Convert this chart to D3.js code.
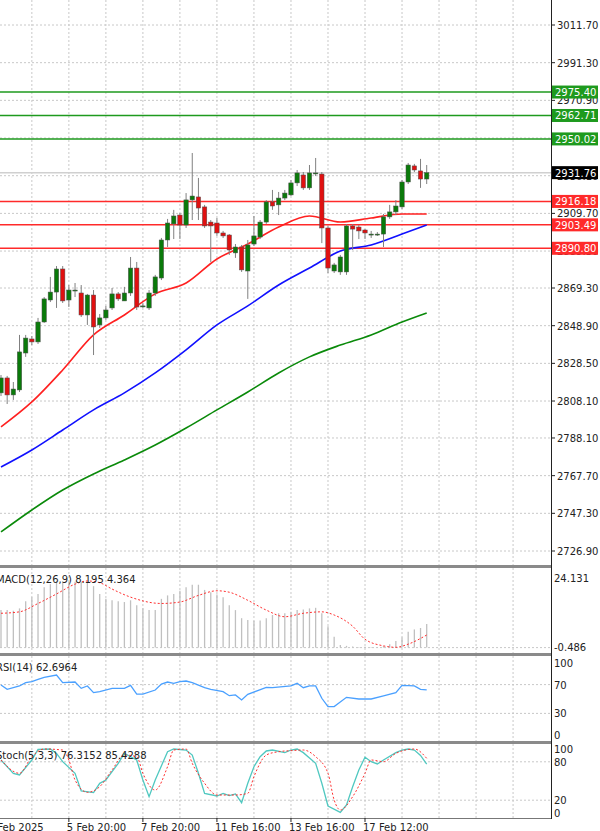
<!DOCTYPE html>
<html><head><meta charset="utf-8">
<script src="https://cdn.jsdelivr.net/npm/d3@7"></script>
<style>body{margin:0;background:#fff}svg{display:block;font-family:"DejaVu Sans",sans-serif}</style>
</head><body><svg id="c" width="600" height="831"></svg>
<script>
// ---- data ----
const candleOpen =[2812.5,2820.6,2811.4,2814.1,2834.1,2841.7,2840.1,2850.9,2862.8,2867.1,2879.6,2862.8,2868.2,2866.6,2854.7,2865.5,2849.3,2853.1,2858.5,2866.1,2862.3,2866.6,2880.1,2859.6,2858.5,2866.6,2874.7,2895.3,2904.0,2908.8,2903.4,2917.0,2918.6,2913.2,2905.0,2904.5,2899.1,2898.0,2888.3,2891.5,2878.5,2893.1,2896.9,2905.0,2915.9,2914.3,2918.0,2919.7,2926.2,2930.5,2923.5,2931.6,2931.0,2901.8,2878.5,2878.0,2878.0,2902.9,2902.3,2900.7,2898.5,2898.5,2898.5,2907.8,2910.5,2913.2,2926.7,2935.4,2932.7,2928.3];
const candleClose=[2820.6,2811.4,2814.6,2834.7,2842.2,2840.1,2850.9,2863.4,2867.1,2879.6,2862.3,2868.2,2868.2,2854.7,2865.5,2848.2,2853.1,2857.4,2866.1,2863.4,2866.6,2880.1,2859.0,2859.6,2866.6,2875.3,2895.3,2904.5,2908.3,2903.4,2917.0,2919.1,2912.6,2902.9,2902.9,2899.1,2897.5,2889.9,2891.5,2879.1,2892.6,2897.5,2905.0,2915.9,2913.7,2918.0,2920.7,2926.2,2931.6,2923.5,2931.6,2931.6,2901.8,2880.1,2881.8,2886.1,2902.9,2901.2,2900.2,2899.1,2898.5,2898.5,2907.8,2910.5,2913.7,2926.7,2935.9,2933.2,2928.3,2931.76];
const candleHigh =[2822.2,2821.7,2818.4,2843.9,2843.9,2843.3,2853.1,2864.4,2875.3,2881.2,2881.2,2870.9,2872.0,2870.9,2866.1,2868.2,2855.2,2859.6,2869.3,2867.1,2869.9,2886.1,2883.4,2861.2,2868.2,2876.4,2896.4,2906.7,2911.6,2909.9,2920.7,2942.4,2928.9,2914.3,2906.1,2907.2,2900.2,2898.5,2893.1,2892.6,2895.3,2908.3,2906.1,2916.9,2922.4,2921.3,2922.4,2927.8,2933.2,2932.1,2935.9,2939.7,2932.1,2902.9,2882.9,2887.2,2903.9,2903.9,2903.4,2901.2,2900.2,2899.6,2909.4,2914.3,2916.9,2927.8,2937.0,2936.5,2939.2,2935.9];
const candleLow  =[2810.8,2806.5,2808.7,2813.0,2832.0,2838.4,2839.0,2850.4,2861.7,2858.5,2861.2,2859.0,2864.4,2853.6,2849.3,2833.0,2847.7,2852.0,2857.4,2862.3,2862.3,2865.0,2857.4,2858.5,2857.4,2865.0,2873.6,2891.5,2895.8,2895.8,2901.8,2906.1,2906.1,2901.8,2883.4,2897.5,2896.4,2887.2,2885.6,2878.0,2863.4,2892.0,2895.8,2904.0,2911.6,2908.8,2916.9,2919.1,2924.5,2922.4,2922.4,2929.9,2893.6,2877.4,2877.4,2876.4,2876.4,2889.9,2895.8,2895.8,2896.4,2897.5,2891.5,2906.7,2908.8,2912.1,2925.6,2932.1,2923.5,2925.6];
const maIdx   =[0,5,10,15,20,25,30,35,40,45,50,55,60,65,69];
const maFast  =[2794.1,2807.6,2824.9,2843.9,2854.7,2866.1,2872.0,2885.0,2893.1,2902.3,2908.3,2905.0,2907.2,2909.4,2909.4];
const maMid   =[2772.4,2781.6,2792.4,2803.3,2812.5,2823.3,2835.8,2849.3,2859.6,2870.9,2880.1,2889.3,2892.6,2898.5,2903.4];
const maSlow  =[2737.2,2749.1,2759.9,2768.6,2776.2,2784.3,2793.5,2803.3,2813.0,2823.3,2832.0,2838.4,2843.9,2850.9,2855.8];
const resistLevels=[2975.40,2962.71,2950.02];
const supportLevels=[2916.18,2903.49,2890.80];
const lastPrice=2931.76;
const priceTicks=[3011.70,2991.30,2970.90,2950.50,2930.10,2909.70,2889.30,2869.30,2848.90,2828.50,2808.10,2788.10,2767.70,2747.30,2726.90];
const macdHist=[13.0,13.0,12.8,13.6,16.1,17.5,18.6,20.9,22.0,23.1,23.1,22.8,22.8,22.8,22.5,21.3,18.6,16.9,16.4,16.1,15.8,16.4,14.7,13.6,13.0,13.0,16.9,18.1,18.6,19.7,20.9,21.8,21.8,20.0,19.2,18.4,17.5,14.7,13.0,10.2,9.6,9.3,9.4,10.2,11.3,11.9,11.9,12.4,13.0,13.2,13.6,13.8,11.9,7.4,3.8,0.9,0.6,0.4,0.2,0.3,0.2,0.2,0.5,1.2,2.3,3.5,5.5,6.3,6.8,8.195];
const macdSigIdx=[0,3,6,9,12,14,16,18,21,26,29,32,35,37,40,43,46,49,52,54,57,59,62,64,66,69];
const macdSignal=[11.9,12.4,15.3,18.6,22.0,23.1,22.5,20.3,17.5,15.3,15.8,18.1,19.7,19.2,16.4,13.0,10.7,11.9,12.4,11.3,7.4,2.9,0.6,0.1,1.2,4.364];
const rsiIdx=[0,1,3,4,5,6,7,9,10,12,13,14,15,16,18,20,21,22,23,25,26,27,28,29,30,31,33,34,36,37,38,39,40,43,44,47,48,49,50,51,52,53,54,56,58,60,62,64,65,67,68,69];
const rsiVal=[69.4,63.5,68.1,72.7,74.1,77.3,80.1,83.3,72.7,73.6,64.8,68.1,58.8,60.2,64.8,64.8,69.0,56.9,56.9,62.5,70.8,73.6,71.8,74.1,75.0,72.7,65.7,63.4,60.2,54.6,55.6,48.6,56.5,66.2,65.7,68.1,71.8,65.7,68.1,68.1,51.0,39.4,39.4,52.3,50.0,50.0,54.2,58.8,69.0,68.1,63.5,62.6964];
const stochIdx=[0,2,3,5,6,8,9,10,12,13,15,16,17,19,20,22,23,24,25,27,28,30,31,32,33,35,36,37,38,39,40,41,42,43,44,46,47,48,49,51,52,53,55,56,57,58,59,60,61,62,64,65,66,67,68,69];
const stochK=[82.8,62.0,59.4,82.8,99.5,100,93.2,80.2,62.0,34.4,31.8,46.4,51.6,77.6,93.2,82.8,51.6,25.5,51.6,95.8,100,98.4,90.6,62.0,30.7,26.6,30.7,27.1,29.7,16.1,46.4,72.4,88.0,96.9,98.4,94.3,98.4,100,94.3,77.6,46.4,10.9,1,12.5,41.1,67.2,87.0,80.2,76.6,82.8,94.3,98.4,100,98.4,90.0,76.3152];
const stochDIdx=[0,3,5,7,10,11,12,14,16,18,20,22,23,25,27,28,30,31,33,35,38,40,41,43,45,47,49,51,53,54,55,57,59,60,62,64,67,69];
const stochD=[82.8,62.0,88.0,100,98.4,82.8,51.6,32.3,41.1,67.2,90.6,88.0,62.0,35.9,72.4,98.4,100,77.6,46.4,28.1,28.1,30.7,56.8,90.6,95.8,97.4,98.4,88.0,62.0,20.3,4.7,25.5,62.0,82.8,80.2,93.2,100,85.4288];
const timeLabels=["3 Feb 2025","5 Feb 20:00","7 Feb 20:00","11 Feb 16:00","13 Feb 16:00","17 Feb 12:00"];
const timeLabelIdx=[-1,11,23,35,47,59];

// ---- drawing ----
const svg=d3.select("#c");
const W=551;
const x=d3.scaleLinear().domain([0,69]).range([1,426.7]);
const y=d3.scaleLinear().domain([2726.9,3011.7]).range([551,25]);
const yM=d3.scaleLinear().domain([-0.486,24.131]).range([649,578]);
const yR=d3.scaleLinear().domain([0,100]).range([735,663]);
const yS=d3.scaleLinear().domain([0,100]).range([813,749]);
const grid="#c8c8c8";
const panels=[[0,565],[568,653],[656,741],[744,818]];
panels.forEach((p,k)=>{
  svg.append("defs").append("clipPath").attr("id","cp"+k).append("rect").attr("x",0).attr("y",p[0]).attr("width",W).attr("height",p[1]-p[0]);
});
const gridIdx=d3.range(-1,84,6);
panels.forEach((p,k)=>{
  const g=svg.append("g").attr("clip-path","url(#cp"+k+")");
  gridIdx.forEach(i=>g.append("line").attr("x1",x(i)).attr("x2",x(i)).attr("y1",p[0]).attr("y2",p[1]).attr("stroke",grid).attr("stroke-dasharray","2,2"));
});
const main=svg.append("g").attr("clip-path","url(#cp0)");
priceTicks.forEach(v=>main.append("line").attr("x1",0).attr("x2",W).attr("y1",y(v)).attr("y2",y(v)).attr("stroke",grid).attr("stroke-dasharray","2,2"));
[70,30].forEach(v=>svg.append("line").attr("x1",0).attr("x2",W).attr("y1",yR(v)).attr("y2",yR(v)).attr("stroke",grid).attr("stroke-dasharray","2,2"));
[80,20].forEach(v=>svg.append("line").attr("x1",0).attr("x2",W).attr("y1",yS(v)).attr("y2",yS(v)).attr("stroke",grid).attr("stroke-dasharray","2,2"));
svg.append("line").attr("x1",0).attr("x2",W).attr("y1",yM(0)).attr("y2",yM(0)).attr("stroke",grid).attr("stroke-dasharray","2,2");

main.append("line").attr("x1",0).attr("x2",W).attr("y1",y(lastPrice)).attr("y2",y(lastPrice)).attr("stroke","#d0d0d0").attr("stroke-width",1.5);
resistLevels.forEach(v=>main.append("line").attr("x1",0).attr("x2",W).attr("y1",y(v)).attr("y2",y(v)).attr("stroke","#1e9a1e").attr("stroke-width",1.5));
supportLevels.forEach(v=>main.append("line").attr("x1",0).attr("x2",W).attr("y1",y(v)).attr("y2",y(v)).attr("stroke","#ff2a2a").attr("stroke-width",1.5));

const maLine=(arr,col)=>main.append("path").attr("d",d3.line().curve(d3.curveMonotoneX).x((d,i)=>x(maIdx[i])).y(d=>y(d))(arr)).attr("fill","none").attr("stroke",col).attr("stroke-width",1.6);
maLine(maSlow,"#0a8a0a");maLine(maMid,"#1010ff");maLine(maFast,"#ff2020");

candleOpen.forEach((o,i)=>{
  const c=candleClose[i],up=c>=o,cx=x(i);
  main.append("line").attr("x1",cx).attr("x2",cx).attr("y1",y(candleHigh[i])).attr("y2",y(candleLow[i])).attr("stroke","#808080");
  const t=y(Math.max(o,c)),b=y(Math.min(o,c));
  main.append("rect").attr("x",cx-2.2).attr("y",t).attr("width",4.4).attr("height",Math.max(1,b-t))
    .attr("fill",up?"#0a7a0a":"#e01010").attr("stroke","#505050").attr("stroke-width",0.5);
});

const mg=svg.append("g").attr("clip-path","url(#cp1)");
macdHist.forEach((v,i)=>mg.append("line").attr("x1",x(i)).attr("x2",x(i)).attr("y1",yM(0)).attr("y2",yM(v)).attr("stroke","#c0c0c0").attr("stroke-width",1.3));
mg.append("path").attr("d",d3.line().curve(d3.curveMonotoneX).x((d,i)=>x(macdSigIdx[i])).y(d=>yM(d))(macdSignal)).attr("fill","none").attr("stroke","#ff3030").attr("stroke-dasharray","2,2");
svg.append("path").attr("d",d3.line().x((d,i)=>x(rsiIdx[i])).y(d=>yR(d))(rsiVal)).attr("fill","none").attr("stroke","#4aa0ff").attr("stroke-width",1.3);
svg.append("path").attr("d",d3.line().x((d,i)=>x(stochIdx[i])).y(d=>yS(d))(stochK)).attr("fill","none").attr("stroke","#50c8c0").attr("stroke-width",1.3);
svg.append("path").attr("d",d3.line().curve(d3.curveMonotoneX).x((d,i)=>x(stochDIdx[i])).y(d=>yS(d))(stochD)).attr("fill","none").attr("stroke","#ff3030").attr("stroke-dasharray","2,2");

[566.5,654.5,742.5].forEach(v=>svg.append("rect").attr("x",0).attr("y",v-1.5).attr("width",W+1).attr("height",3).attr("fill","#8a8a8a"));
svg.append("line").attr("x1",0).attr("x2",W+1).attr("y1",818.5).attr("y2",818.5).attr("stroke","#777");
svg.append("line").attr("x1",W+0.5).attr("x2",W+0.5).attr("y1",0).attr("y2",819).attr("stroke","#222");

const fs="10px";
priceTicks.forEach(v=>{
  svg.append("line").attr("x1",W).attr("x2",W+4).attr("y1",y(v)).attr("y2",y(v)).attr("stroke","#222");
  svg.append("text").attr("x",557).attr("y",y(v)+4).attr("font-size",fs).attr("fill","#222").text(v.toFixed(2));
});
const box=(v,col)=>{
  svg.append("rect").attr("x",552).attr("y",y(v)-6.5).attr("width",46).attr("height",13).attr("fill",col);
  svg.append("text").attr("x",555).attr("y",y(v)+4).attr("font-size",fs).attr("fill","#fff").text(v.toFixed(2));
};
resistLevels.forEach(v=>box(v,"#1e9a1e"));
supportLevels.forEach(v=>box(v,"#ff2a2a"));
box(lastPrice,"#000");

const lab=(t,yy)=>svg.append("text").attr("x",554).attr("y",yy).attr("font-size",fs).attr("fill","#222").text(t);
lab("24.131",yM(24.131)+4);lab("-0.486",yM(-0.486)+2);
[100,70,30,0].forEach(v=>lab(v,yR(v)+4));
[100,80,20,0].forEach(v=>lab(v,yS(v)+4));

svg.append("text").attr("x",-4).attr("y",583).attr("font-size",fs).attr("fill","#222").text("MACD(12,26,9) 8.195 4.364");
svg.append("text").attr("x",-4).attr("y",671).attr("font-size",fs).attr("fill","#222").text("RSI(14) 62.6964");
svg.append("text").attr("x",-4).attr("y",759).attr("font-size",fs).attr("fill","#222").text("Stoch(5,3,3) 76.3152 85.4288");

timeLabels.forEach((t,k)=>{
  const xi=x(timeLabelIdx[k]);
  svg.append("line").attr("x1",xi).attr("x2",xi).attr("y1",818).attr("y2",822).attr("stroke","#222");
  svg.append("text").attr("x",xi+(k==0?-7:-2)).attr("y",831).attr("font-size",fs).attr("fill","#222").text(t);
});
</script></body></html>
